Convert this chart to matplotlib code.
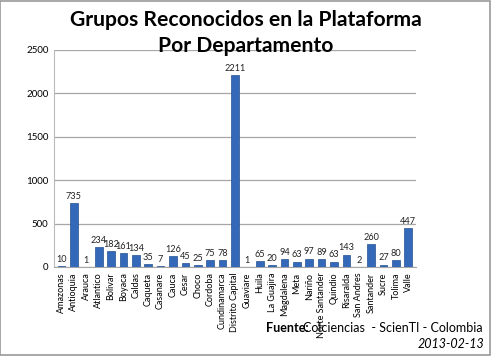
import matplotlib
matplotlib.use("Agg")
import matplotlib.pyplot as plt
from matplotlib.patches import Rectangle

departamentos = ["Amazonas", "Antioquia", "Arauca", "Atlantico", "Bolivar", "Boyaca",
                 "Caldas", "Caqueta", "Casanare", "Cauca", "Cesar", "Choco", "Cordoba",
                 "Cundinamarca", "Distrito Capital", "Guaviare", "Huila", "La Guajira",
                 "Magdalena", "Meta", "Nariño", "Norte Santander", "Quindio", "Risaralda",
                 "San Andres", "Santander", "Sucre", "Tolima", "Valle"]
grupos = [10, 735, 1, 234, 182, 161, 134, 35, 7, 126, 45, 25, 75, 78, 2211, 1, 65, 20,
          94, 63, 97, 89, 63, 143, 2, 260, 27, 80, 447]
y_ticks = [0, 500, 1000, 1500, 2000, 2500]

plt.rcParams['font.family'] = ['Lato', 'DejaVu Sans']

fig = plt.figure(figsize=(4.92, 3.56), dpi=100)
ax = fig.add_axes([0.11, 0.25, 0.735, 0.61])

x = list(range(len(departamentos)))
ax.bar(x, grupos, width=0.62, color="#3468B8", edgecolor="#24508F", linewidth=0.5, zorder=3)
for xi, v in zip(x, grupos):
    ax.text(xi, v + 25, str(v), ha="center", va="bottom", fontsize=6.6, color="#222222", zorder=4)

ax.set_xlim(-0.6, len(departamentos) - 0.4)
ax.set_ylim(0, 2500)
ax.set_yticks(y_ticks)
ax.set_yticklabels([str(t) for t in y_ticks], fontsize=7)
ax.set_xticks(x)
ax.set_xticklabels(departamentos, rotation=90, fontsize=6.5)
ax.tick_params(axis="both", length=0, pad=4)
ax.yaxis.grid(True, color="#A6A6A6", linewidth=0.9, zorder=0)
for s in ["top", "right"]:
    ax.spines[s].set_visible(False)
ax.spines["left"].set_color("#BBBBBB")
ax.spines["bottom"].set_color("#A6A6A6")

fig.text(0.5, 0.945, "Grupos Reconocidos en la Plataforma", ha="center", va="center",
         fontsize=15.2, fontweight="bold")
fig.text(0.5, 0.87, "Por Departamento", ha="center", va="center",
         fontsize=15.2, fontweight="bold")

fig.text(0.627, 0.078, "Fuente:", ha="right", va="center", fontsize=9, fontweight="bold")
fig.text(0.98, 0.078, "Colciencias  - ScienTI - Colombia", ha="right", va="center", fontsize=9)
fig.text(0.985, 0.033, "2013-02-13", ha="right", va="center", fontsize=9, style="italic")

fig.patches.append(Rectangle((0.0, 0.003), 0.995, 0.994, transform=fig.transFigure,
                             fill=False, edgecolor="#9A9A9A", linewidth=1.2))

fig.savefig("out.png", dpi=100)
